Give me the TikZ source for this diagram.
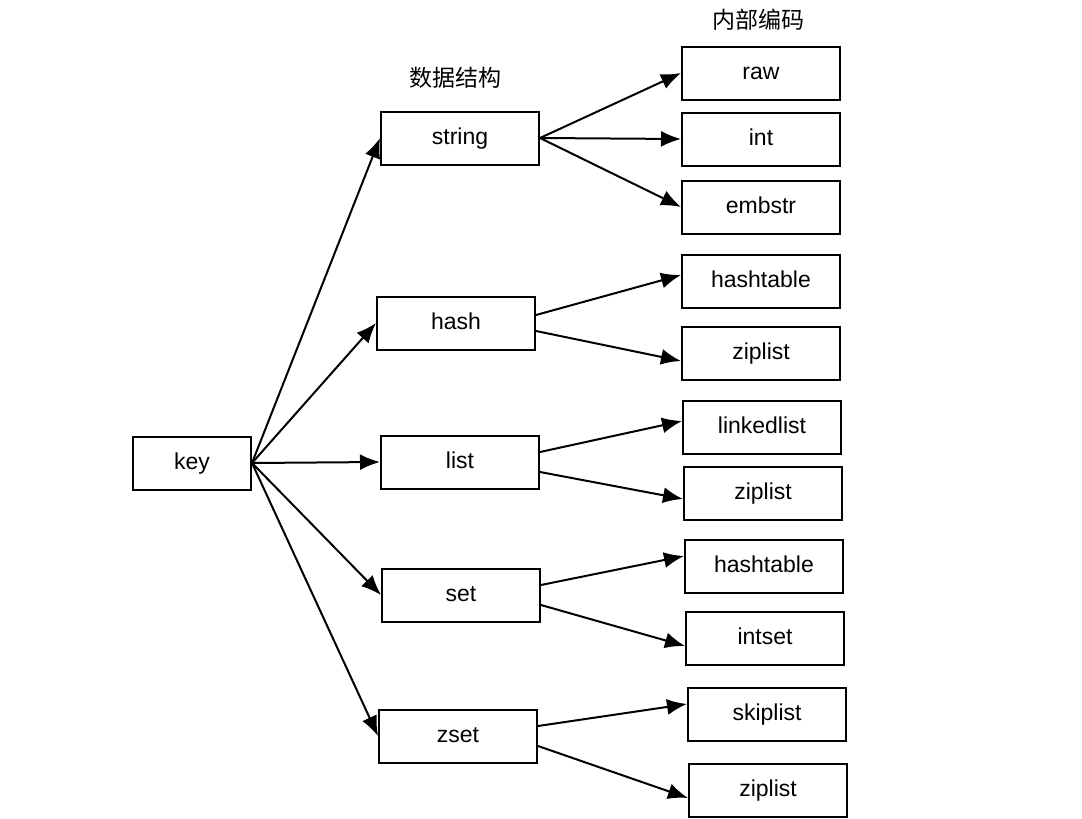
\documentclass[tikz,border=0pt]{standalone}
\usepackage{fontspec}
\setmainfont{Liberation Sans}
\newfontfamily\cjk{Noto Sans CJK SC}
\usepackage{tikz}
\usetikzlibrary{arrows.meta}

\begin{document}
\begin{tikzpicture}[x=0.5pt, y=-0.5pt, font=\fontsize{11.5}{14}\selectfont]
\tikzstyle{box} = [rectangle, minimum width=79pt, minimum height=26.5pt, text height=8.5pt, text depth=2.5pt, text centered, draw=black, line width=1pt, fill=white]
\tikzstyle{arr} = [-{Latex[length=10pt, width=8pt]}, line width=1pt]
\useasboundingbox (0,0) rectangle (1082,819);

\node at (455,78) {\cjk 数据结构};
\node at (758,20) {\cjk 内部编码};

\node (key)    [box, minimum width=59pt] at (192,463) {key};
\node (string) [box] at (460,138) {string};
\node (hash)   [box] at (456,323) {hash};
\node (list)   [box] at (460,462) {list};
\node (set)    [box] at (461,595) {set};
\node (zset)   [box] at (458,736) {zset};

\node (raw)    [box] at (761,73)  {raw};
\node (int)    [box] at (761,139) {int};
\node (embstr) [box] at (761,207) {embstr};
\node (hht)    [box] at (761,281) {hashtable};
\node (hzip)   [box] at (761,353) {ziplist};
\node (lll)    [box] at (762,427) {linkedlist};
\node (lzip)   [box] at (763,493) {ziplist};
\node (sht)    [box] at (764,566) {hashtable};
\node (sint)   [box] at (765,638) {intset};
\node (zskip)  [box] at (767,714) {skiplist};
\node (zzip)   [box] at (768,790) {ziplist};

\foreach \nm in {string, hash, list, set, zset}
  \draw [arr] (key.east) -- (\nm.west);

\foreach \nm in {raw, int, embstr}
  \draw [arr] (string.east) -- (\nm.west);

\draw [arr] ([yshift=4pt]hash.east) -- ([yshift=3pt]hht.west);
\draw [arr] ([yshift=-4pt]hash.east) -- ([yshift=-4pt]hzip.west);
\draw [arr] ([yshift=5pt]list.east) -- ([yshift=3pt]lll.west);
\draw [arr] ([yshift=-5pt]list.east) -- ([yshift=-3pt]lzip.west);
\draw [arr] ([yshift=5pt]set.east) -- ([yshift=5pt]sht.west);
\draw [arr] ([yshift=-5pt]set.east) -- ([yshift=-4pt]sint.west);
\draw [arr] ([yshift=5pt]zset.east) -- ([yshift=5pt]zskip.west);
\draw [arr] ([yshift=-5pt]zset.east) -- ([yshift=-4pt]zzip.west);

\end{tikzpicture}
\end{document}
